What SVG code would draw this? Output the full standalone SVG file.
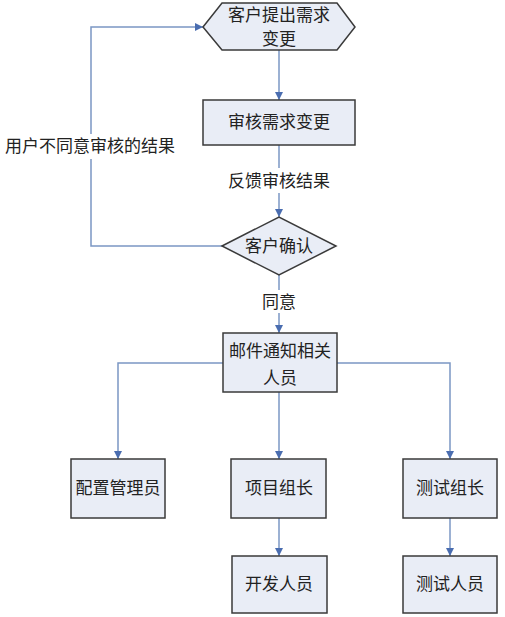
<svg xmlns="http://www.w3.org/2000/svg" width="505" height="617" viewBox="0 0 505 617">
<defs>
<style>
.n{fill:#e9edf6;stroke:#3a3a3a;stroke-width:1.5}
.t{font-family:"Noto Sans CJK SC","Liberation Serif",serif;font-size:17px;fill:#222;text-anchor:middle}
.c{fill:none;stroke:#7b97c4;stroke-width:1.5}
</style>
<marker id="a" viewBox="0 0 10 10" refX="10" refY="5" markerWidth="8" markerHeight="8" orient="auto" markerUnits="userSpaceOnUse">
<path d="M0,0 L10,5 L0,10 z" fill="#4a6db0"/>
</marker>
</defs>
<rect width="505" height="617" fill="#fff"/>
<g id="connectors">
<path class="c" d="M279,50 V100" marker-end="url(#a)"/>
<path class="c" d="M279,145 V217" marker-end="url(#a)"/>
<path class="c" d="M222,246 H91 V27 H203" marker-end="url(#a)"/>
<path class="c" d="M279,275 V333" marker-end="url(#a)"/>
<path class="c" d="M223,363 H118 V459" marker-end="url(#a)"/>
<path class="c" d="M337,363 H450 V459" marker-end="url(#a)"/>
<path class="c" d="M279,392 V459" marker-end="url(#a)"/>
<path class="c" d="M279,518 V556" marker-end="url(#a)"/>
<path class="c" d="M450,518 V556" marker-end="url(#a)"/>
<rect x="224" y="168" width="110" height="25" fill="#fff"/>
<text class="t" x="279" y="187">反馈审核结果</text>
<rect x="2" y="134" width="176" height="25" fill="#fff"/>
<text class="t" x="90" y="152">用户不同意审核的结果</text>
<rect x="258" y="290" width="42" height="23" fill="#fff"/>
<text class="t" x="279" y="308">同意</text>
</g>
<g id="n1">
<polygon class="n" points="203,27 222,3 337,3 355,27 337,50 222,50"/>
<text class="t" x="279" y="21">客户提出需求</text>
<text class="t" x="279" y="45">变更</text>
</g>
<g id="n2">
<rect class="n" x="203" y="100" width="152" height="45"/>
<text class="t" x="279" y="128">审核需求变更</text>
</g>
<g id="n3">
<polygon class="n" points="222,246 279,217 336,246 279,275"/>
<text class="t" x="279" y="252">客户确认</text>
</g>
<g id="n4">
<rect class="n" x="223" y="333" width="114" height="59"/>
<text class="t" x="280" y="357">邮件通知相关</text>
<text class="t" x="280" y="384">人员</text>
</g>
<g id="n5">
<rect class="n" x="71" y="459" width="94" height="59"/>
<text class="t" x="118" y="494">配置管理员</text>
</g>
<g id="n6">
<rect class="n" x="231" y="459" width="95" height="59"/>
<text class="t" x="279" y="494">项目组长</text>
</g>
<g id="n7">
<rect class="n" x="403" y="459" width="94" height="59"/>
<text class="t" x="450" y="494">测试组长</text>
</g>
<g id="n8">
<rect class="n" x="232" y="556" width="95" height="57"/>
<text class="t" x="279" y="590">开发人员</text>
</g>
<g id="n9">
<rect class="n" x="403" y="556" width="94" height="57"/>
<text class="t" x="450" y="590">测试人员</text>
</g>
</svg>
